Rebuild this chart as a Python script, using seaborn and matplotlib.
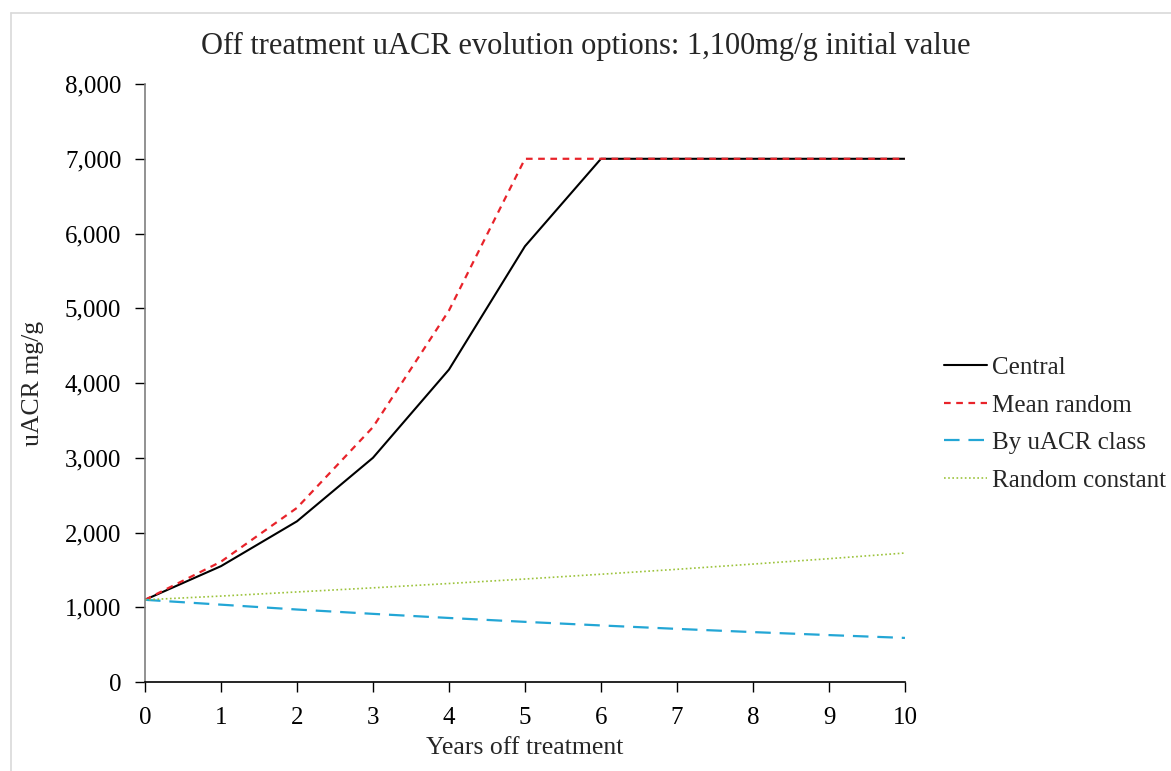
import pandas as pd
import seaborn as sns
import matplotlib.pyplot as plt
from matplotlib.lines import Line2D

# values
years = [0, 1, 2, 3, 4, 5, 6, 7, 8, 9, 10]
central = [1100, 1550, 2150, 3000, 4180, 5830, 7000, 7000, 7000, 7000, 7000]
mean_random = [1100, 1610, 2330, 3410, 4970, 7000, 7000, 7000, 7000, 7000, 7000]
by_class = [1100, 1035, 970, 912, 857, 805, 757, 711, 668, 628, 590]
random_const = [1100, 1150, 1205, 1260, 1318, 1378, 1442, 1508, 1578, 1650, 1726]
series_names = ["Central", "Mean random", "By uACR class", "Random constant"]

df = pd.DataFrame({"Years": years, "Central": central, "Mean random": mean_random,
                   "By uACR class": by_class, "Random constant": random_const})
long = df.melt(id_vars="Years", var_name="Series", value_name="uACR")

sns.set_style("white")
plt.rcParams["font.family"] = ["Liberation Serif", "DejaVu Serif"]

colors = {"Central": "#000000", "Mean random": "#e8232a",
          "By uACR class": "#23a6d5", "Random constant": "#9cc33b"}
dashes = {"Central": "", "Mean random": (3, 2.5),
          "By uACR class": (7, 4), "Random constant": (1, 1.5)}
widths = {"Central": 1.5, "Mean random": 1.6, "By uACR class": 1.6, "Random constant": 1.2}

fig = plt.figure(figsize=(11.71, 7.71), dpi=100)
ax = fig.add_axes([0.1238, 0.1154, 0.649, 0.7756])

for name in series_names:
    sub = long[long["Series"] == name]
    sns.lineplot(data=sub, x="Years", y="uACR", ax=ax, color=colors[name],
                 linewidth=widths[name], dashes=False, legend=False,
                 linestyle="-" if name == "Central" else (0, dashes[name]))

ax.set_xlim(0, 10)
ax.set_ylim(0, 8000)
ax.set_xticks(range(0, 11))
ax.set_yticks(range(0, 8001, 1000))
ax.set_yticklabels([f"{v:,}" for v in range(0, 8001, 1000)])
ax.tick_params(axis="both", labelsize=18, direction="out", length=7, width=1,
               bottom=True, left=True, colors="black")
ax.tick_params(axis="x", pad=11)
ax.tick_params(axis="y", pad=10)
for s in ["top", "right"]:
    ax.spines[s].set_visible(False)
ax.spines["left"].set_color("#7f7f7f")
ax.spines["left"].set_linewidth(1.2)
ax.spines["bottom"].set_color("black")
ax.spines["bottom"].set_linewidth(1.2)

ax.set_xlabel("Years off treatment", fontsize=18.5, labelpad=6)
ax.set_ylabel("uACR mg/g", fontsize=18.5, labelpad=15)
fig.text(0.5, 0.94, "Off treatment uACR evolution options: 1,100mg/g initial value",
         ha="center", va="center", fontsize=22)

handles = []
for name in series_names:
    ls = "-" if name == "Central" else (0, dashes[name])
    handles.append(Line2D([0], [0], color=colors[name], lw=widths[name], linestyle=ls))
fig.legend(handles, series_names, loc="center left", bbox_to_anchor=(0.798, 0.45),
           frameon=False, fontsize=18, handlelength=1.7, handletextpad=0.2,
           labelspacing=0.6, borderaxespad=0)

# light frame lines of the original picture
fig.add_artist(Line2D([11 / 1171, 11 / 1171], [0, 1 - 13 / 771], color="#d9d9d9", lw=1.2))
fig.add_artist(Line2D([11 / 1171, 1], [1 - 13 / 771, 1 - 13 / 771], color="#d9d9d9", lw=1.2))

fig.savefig("out.png", dpi=100)
